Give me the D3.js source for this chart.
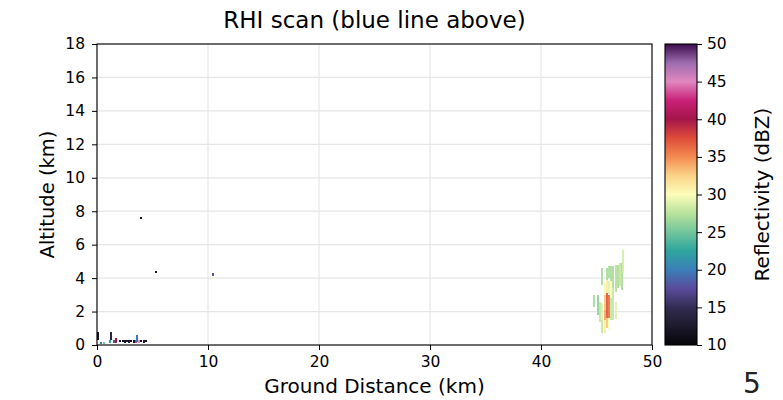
<!DOCTYPE html>
<html>
<head>
<meta charset="utf-8">
<script src="https://cdn.jsdelivr.net/npm/d3@7"></script>
<style>
  html, body { margin: 0; padding: 0; background: #fff; }
  svg { display: block; font-family: "DejaVu Sans", sans-serif; }
</style>
</head>
<body>
<svg id="chart" width="783" height="400"></svg>
<script>
// ---------------- data ----------------
const titleText = "RHI scan (blue line above)";
const xLabel = "Ground Distance (km)";
const yLabel = "Altitude (km)";
const cbLabel = "Reflectivity (dBZ)";
const cornerText = "5";

const xTicks = [0, 10, 20, 30, 40, 50];
const yTicks = [0, 2, 4, 6, 8, 10, 12, 14, 16, 18];
const cbTicks = [10, 15, 20, 25, 30, 35, 40, 45, 50];

// colormap stops (dBZ -> colour)
const cmapStops = [10, 12.5, 15, 17.5, 20, 22.5, 25, 27.5, 30, 32.5, 35, 37.5, 40, 42.5, 45, 47.5, 50];
const cmapColors = ["#050508", "#1c1a2c", "#322c52", "#5b4b9c", "#3b7fb8", "#2ea59e", "#72c59c", "#b9e29c",
                    "#fbfdb9", "#fbd488", "#f48a50", "#de4c3a", "#a5154a", "#c92178", "#e287c0", "#9c6cae", "#3c0c4c"];

// radar gates: centre distance (km), bottom & top altitude (km), reflectivity (dBZ)
const gateDist = [
  // distant convective cell
  44.8,
  45.2,
  45.35,
  45.55, 45.55, 45.55,
  45.75, 45.75, 45.75, 45.75,
  45.95, 45.95, 45.95, 45.95,
  46.15, 46.15, 46.15, 46.15,
  46.35, 46.35, 46.35,
  46.55, 46.55,
  46.75, 46.75,
  46.95,
  47.15,
  47.35, 47.4,
  // near-radar clutter
  0.1, 0.4, 0.6, 1.2, 1.3, 1.5, 1.7, 2.1, 2.3, 2.5, 2.7, 2.9, 3.1, 3.3, 3.5, 3.6, 3.8, 4.0, 4.2, 4.4,
  // isolated specks
  3.96, 5.3, 10.45
];
const gateBottom = [
  2.3,
  1.8,
  1.4,
  0.7, 1.5, 3.6,
  0.7, 1.5, 2.1, 3.0,
  1.0, 1.6, 3.1, 3.9,
  0.9, 1.6, 3.0, 4.0,
  1.5, 2.8, 3.8,
  1.5, 3.4,
  1.6, 3.2,
  3.4,
  3.5,
  3.3, 4.3,
  0.3, 0.1, 0.05, 0.1, 0.3, 0.1, 0.1, 0.15, 0.15, 0.15, 0.15, 0.15, 0.15, 0.15, 0.1, 0.2, 0.1, 0.15, 0.15, 0.15,
  7.55, 4.3, 4.1
];
const gateTop = [
  3.0,
  3.0,
  2.6,
  1.5, 2.5, 4.6,
  1.5, 2.1, 3.0, 3.7,
  1.6, 3.1, 3.9, 4.6,
  1.6, 3.0, 3.8, 4.7,
  2.8, 3.8, 4.7,
  3.4, 4.7,
  2.6, 4.8,
  4.8,
  4.9,
  4.9, 5.7,
  0.8, 0.2, 0.15, 0.3, 0.8, 0.3, 0.4, 0.28, 0.28, 0.3, 0.28, 0.3, 0.28, 0.3, 0.3, 0.6, 0.3, 0.28, 0.3, 0.28,
  7.65, 4.4, 4.3
];
const gateDBZ = [
  27,
  26,
  28,
  28, 29, 27,
  31, 34, 33, 30,
  33, 37, 31, 27,
  30, 36, 29, 27,
  28, 30, 27,
  28, 27,
  29, 27.5,
  27,
  28,
  27, 28.5,
  12, 20, 25, 22, 14, 18, 40, 12, 11, 12, 13, 12, 11, 12, 38, 20, 45, 12, 13, 12,
  12, 12, 18
];
const farGateWidth = 0.22;  // km, gates far from the radar
const nearGateWidth = 0.18; // km, gates close to the radar

// ---------------- layout ----------------
const svg = d3.select("#chart");
const plot = { left: 97, right: 652, top: 44, bottom: 345 };
const cb = { left: 665, right: 697, top: 44, bottom: 345 };

const x = d3.scaleLinear().domain([0, 50]).range([plot.left, plot.right]);
const y = d3.scaleLinear().domain([0, 18]).range([plot.bottom, plot.top]);
const color = d3.scaleLinear().domain(cmapStops).range(cmapColors).interpolate(d3.interpolateRgb).clamp(true);
const cbScale = d3.scaleLinear().domain([10, 50]).range([cb.bottom, cb.top]);

const tickFont = 15.5;
const labelFont = 19.5;

// grid
const grid = svg.append("g");
grid.selectAll("line.gx").data(xTicks).join("line")
  .attr("x1", d => x(d)).attr("x2", d => x(d))
  .attr("y1", plot.top).attr("y2", plot.bottom)
  .attr("stroke", "#e6e6e6").attr("stroke-width", 1.2);
grid.selectAll("line.gy").data(yTicks).join("line")
  .attr("x1", plot.left).attr("x2", plot.right)
  .attr("y1", d => y(d)).attr("y2", d => y(d))
  .attr("stroke", "#e6e6e6").attr("stroke-width", 1.2);

// gates
const gates = gateDist.map((d, i) => ({ d, b: gateBottom[i], t: gateTop[i], z: gateDBZ[i],
  w: d < 12 ? nearGateWidth : farGateWidth }));
svg.append("g").attr("shape-rendering", "crispEdges")
  .selectAll("rect").data(gates).join("rect")
  .attr("x", g => Math.round(x(g.d - g.w / 2)))
  .attr("width", g => Math.max(1, Math.round(x(g.d + g.w / 2) - x(g.d - g.w / 2))))
  .attr("y", g => Math.round(y(g.t)))
  .attr("height", g => Math.max(1, Math.round(y(g.b) - y(g.t))))
  .attr("fill", g => color(g.z))
  .attr("opacity", g => g.d < 12 ? 1 : 0.92);

// axes
const xAxis = d3.axisBottom(x).tickValues(xTicks).tickSize(5).tickPadding(6).tickFormat(d3.format("d"));
const yAxis = d3.axisLeft(y).tickValues(yTicks).tickSize(5).tickPadding(7).tickFormat(d3.format("d"));
const gx = svg.append("g").attr("transform", `translate(0,${plot.bottom})`).call(xAxis);
const gy = svg.append("g").attr("transform", `translate(${plot.left},0)`).call(yAxis);
[gx, gy].forEach(g => {
  g.select(".domain").remove();
  g.selectAll("line").attr("stroke", "#000").attr("stroke-width", 1);
  g.selectAll("text").attr("fill", "#000").attr("font-size", tickFont).attr("font-family", "DejaVu Sans");
});

// frame
svg.append("rect").attr("x", plot.left).attr("y", plot.top)
  .attr("width", plot.right - plot.left).attr("height", plot.bottom - plot.top)
  .attr("fill", "none").attr("stroke", "#000").attr("stroke-width", 1.1);

// colorbar
const defs = svg.append("defs");
const grad = defs.append("linearGradient").attr("id", "cbgrad")
  .attr("x1", 0).attr("y1", 1).attr("x2", 0).attr("y2", 0);
grad.selectAll("stop").data(cmapStops).join("stop")
  .attr("offset", d => (d - 10) / 40)
  .attr("stop-color", (d, i) => cmapColors[i]);
svg.append("rect").attr("x", cb.left).attr("y", cb.top)
  .attr("width", cb.right - cb.left).attr("height", cb.bottom - cb.top)
  .attr("fill", "url(#cbgrad)").attr("stroke", "#000").attr("stroke-width", 1.1);
const cbAxis = d3.axisRight(cbScale).tickValues(cbTicks).tickSize(5).tickPadding(5).tickFormat(d3.format("d"));
const gcb = svg.append("g").attr("transform", `translate(${cb.right},0)`).call(cbAxis);
gcb.select(".domain").remove();
gcb.selectAll("line").attr("stroke", "#000");
gcb.selectAll("text").attr("fill", "#000").attr("font-size", tickFont).attr("font-family", "DejaVu Sans");

// texts
svg.append("text").attr("x", (plot.left + plot.right) / 2).attr("y", 28)
  .attr("text-anchor", "middle").attr("font-size", 23).attr("fill", "#000").text(titleText);
svg.append("text").attr("x", (plot.left + plot.right) / 2).attr("y", 393)
  .attr("text-anchor", "middle").attr("font-size", 20).attr("fill", "#000").text(xLabel);
svg.append("text").attr("transform", `translate(54,${(plot.top + plot.bottom) / 2}) rotate(-90)`)
  .attr("text-anchor", "middle").attr("font-size", labelFont).attr("fill", "#000").text(yLabel);
svg.append("text").attr("transform", `translate(769,${(cb.top + cb.bottom) / 2}) rotate(-90)`)
  .attr("text-anchor", "middle").attr("font-size", 20).attr("fill", "#000").text(cbLabel);
svg.append("text").attr("x", 752).attr("y", 393)
  .attr("text-anchor", "middle").attr("font-size", 28).attr("fill", "#222").text(cornerText);
</script>
</body>
</html>
